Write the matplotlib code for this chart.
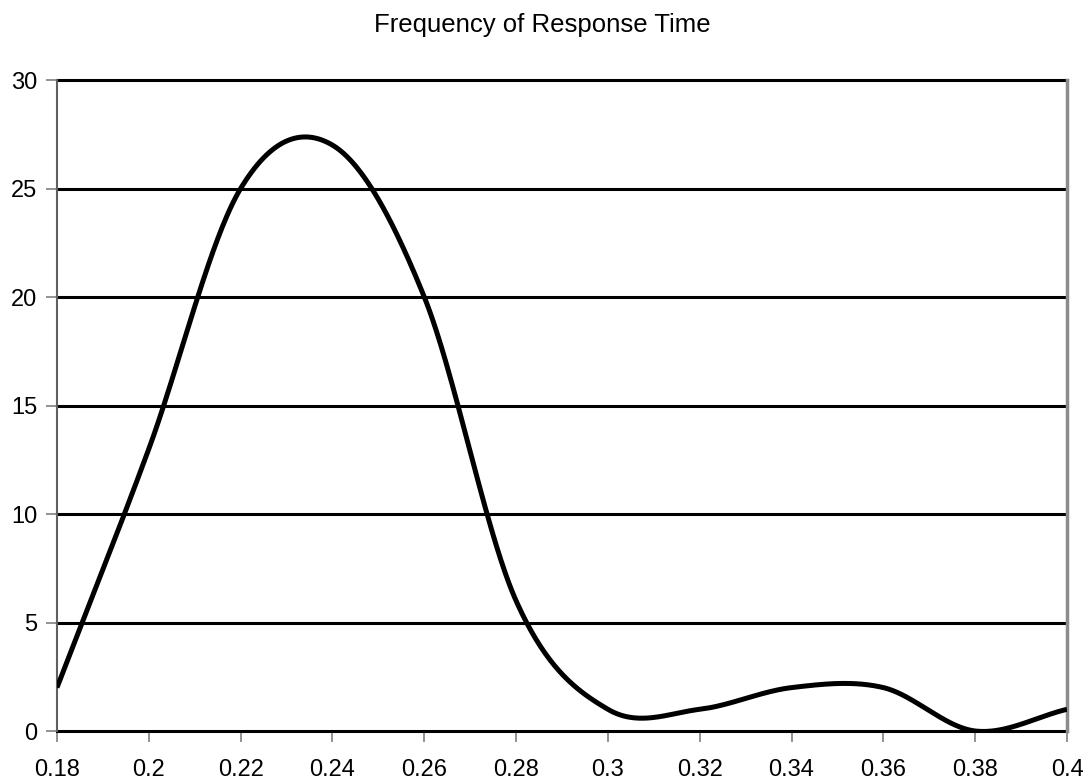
import numpy as np
import matplotlib
matplotlib.use("Agg")
import matplotlib.pyplot as plt

# valori (tempo di risposta -> frequenza)
tempi = [0.18, 0.20, 0.22, 0.24, 0.26, 0.28, 0.30, 0.32, 0.34, 0.36, 0.38, 0.40]
frequenze = [2, 13, 25, 27, 20, 6, 1, 1, 2, 2, 0, 1]
y_ticks = [0, 5, 10, 15, 20, 25, 30]
x_etichette = ['0.18', '0.2', '0.22', '0.24', '0.26', '0.28', '0.3',
               '0.32', '0.34', '0.36', '0.38', '0.4']


def curva_smussata(x, y, n=60):
    # spline Catmull-Rom, simile alla linea "smussata" di Excel
    x = np.asarray(x, float)
    y = np.asarray(y, float)
    px = np.concatenate(([2 * x[0] - x[1]], x, [2 * x[-1] - x[-2]]))
    py = np.concatenate(([2 * y[0] - y[1]], y, [2 * y[-1] - y[-2]]))
    xs, ys = [], []
    for i in range(1, len(px) - 2):
        t = np.linspace(0, 1, n, endpoint=False)
        m1x = (px[i + 1] - px[i - 1]) / 2
        m2x = (px[i + 2] - px[i]) / 2
        m1y = (py[i + 1] - py[i - 1]) / 2
        m2y = (py[i + 2] - py[i]) / 2
        h00 = 2 * t**3 - 3 * t**2 + 1
        h10 = t**3 - 2 * t**2 + t
        h01 = -2 * t**3 + 3 * t**2
        h11 = t**3 - t**2
        xs.append(h00 * px[i] + h10 * m1x + h01 * px[i + 1] + h11 * m2x)
        ys.append(h00 * py[i] + h10 * m1y + h01 * py[i + 1] + h11 * m2y)
    xs.append([x[-1]])
    ys.append([y[-1]])
    return np.concatenate(xs), np.concatenate(ys)


plt.rcParams['font.family'] = ['Liberation Sans', 'DejaVu Sans']

fig = plt.figure(figsize=(10.88, 7.82), dpi=100)
ax = fig.add_axes([57 / 1088, 1 - 731 / 782, (1067 - 57) / 1088, (731 - 80) / 782])

xc, yc = curva_smussata(tempi, frequenze)
ax.plot(xc, yc, color='black', linewidth=3.6, solid_capstyle='butt', zorder=3)

ax.set_xlim(0.18, 0.40)
ax.set_ylim(0, 30)
ax.set_xticks(tempi)
ax.set_xticklabels(x_etichette)
ax.set_yticks(y_ticks)

# griglia orizzontale nera
for v in y_ticks:
    ax.axhline(v, color='black', linewidth=2.2, zorder=2, clip_on=False)

ax.spines['top'].set_visible(False)
ax.spines['bottom'].set_visible(False)
ax.spines['left'].set_color('#606060')
ax.spines['left'].set_linewidth(1.5)
ax.spines['right'].set_color('#8c8c8c')
ax.spines['right'].set_linewidth(2.5)

ax.tick_params(axis='both', direction='out', length=8, width=1.2, color='#808080',
               labelsize=17, labelcolor='black')
ax.tick_params(axis='x', pad=12)
ax.tick_params(axis='y', pad=6)

fig.text(542 / 1088, 1 - 25 / 782, 'Frequency of Response Time', ha='center', va='center',
         fontsize=18.5)

fig.savefig('out.png', dpi=100)
